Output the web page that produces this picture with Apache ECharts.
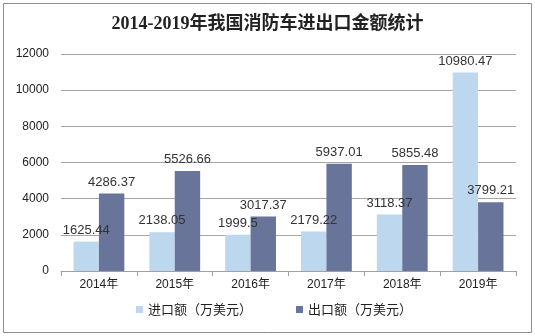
<!DOCTYPE html>
<html><head><meta charset="utf-8">
<script src="https://cdn.jsdelivr.net/npm/echarts@6/dist/echarts.min.js"></script>
<style>html,body{margin:0;padding:0;background:#fff}#c{width:535px;height:336px;}</style>
</head><body><div id="c"></div>
<script>
const categories = ['2014年','2015年','2016年','2017年','2018年','2019年'];
const importValues = [1625.44, 2138.05, 1999.5, 2179.22, 3118.37, 10980.47];
const exportValues = [4286.37, 5526.66, 3017.37, 5937.01, 5855.48, 3799.21];
const seriesNames = ['进口额（万美元）','出口额（万美元）'];
const titleText = '2014-2019年我国消防车进出口金额统计';

const chart = echarts.init(document.getElementById('c'));
const lbl = {show:true, position:'top', distance:5, color:'#333', fontSize:13, fontFamily:'Liberation Sans, Arial, sans-serif'};
chart.setOption({
  animation:false,
  backgroundColor:'#fff',
  graphic:[{type:'rect', shape:{x:3.5,y:3.5,width:528,height:329}, style:{fill:'none', stroke:'#8c8c8c', lineWidth:1}}],
  title:{text:titleText, left:'center', top:10, textStyle:{fontFamily:'Liberation Serif, "Noto Sans CJK SC", serif', fontWeight:'bold', fontSize:18, color:'#222'}},
  legend:{bottom:15, left:131, itemWidth:7, itemHeight:7, itemGap:44, icon:'rect',
    textStyle:{fontSize:13, color:'#222', fontFamily:'"Noto Sans CJK SC", sans-serif'}},
  grid:{left:61, right:19, top:54, bottom:65},
  xAxis:{type:'category', data:categories,
    axisLine:{lineStyle:{color:'#a0a0a0'}}, axisTick:{show:true, lineStyle:{color:'#a0a0a0'}},
    axisLabel:{fontSize:12, color:'#222', margin:8, fontFamily:'Liberation Sans, "Noto Sans CJK SC", sans-serif'}},
  yAxis:{type:'value', min:0, max:12000, interval:2000,
    axisLine:{show:false}, axisTick:{show:false},
    splitLine:{lineStyle:{color:'#a6a6a6'}},
    axisLabel:{fontSize:12, color:'#222', margin:12, formatter:v=>String(v), fontFamily:'Liberation Sans, Arial, sans-serif'}},
  series:[
    {name:seriesNames[0], type:'bar', data:importValues, barGap:'0%', barCategoryGap:'33%', itemStyle:{color:'#bdd7ee'}, label:lbl},
    {name:seriesNames[1], type:'bar', data:exportValues, barGap:'0%', barCategoryGap:'33%', itemStyle:{color:'#68749a'}, label:lbl}
  ]
});
</script></body></html>
